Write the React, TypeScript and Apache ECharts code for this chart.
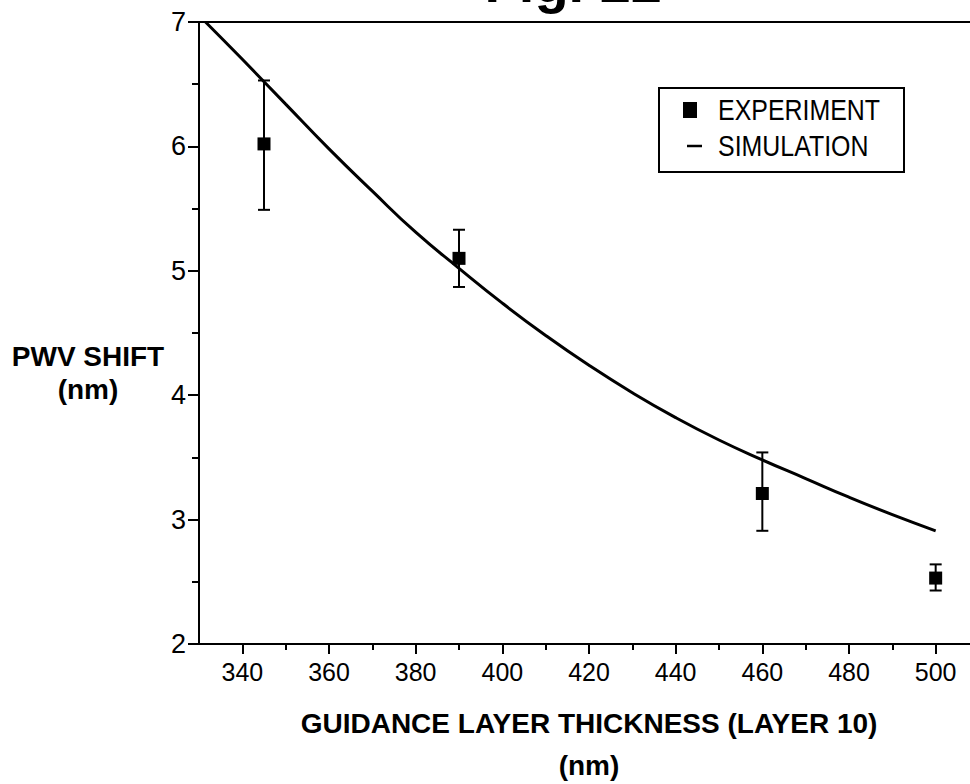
import React, { useEffect, useRef } from "react";
import * as echarts from "echarts";

// Measured experiment points: thickness (nm), PWV shift (nm) and error-bar limits
const expThickness = [345, 390, 460, 500];
const expShift = [6.02, 5.1, 3.21, 2.53];
const expLow = [5.49, 4.87, 2.91, 2.43];
const expHigh = [6.53, 5.33, 3.54, 2.64];

// Simulated curve
const simThickness = [331.5, 340, 350, 360, 370, 380, 390, 400, 410, 420, 430, 440, 450, 460, 470, 480, 490, 500];
const simShift = [7.0, 6.7, 6.34, 5.98, 5.64, 5.31, 5.02, 4.74, 4.48, 4.24, 4.02, 3.82, 3.64, 3.48, 3.33, 3.18, 3.04, 2.91];

// Axis ticks
const xMajorTicks = [340, 360, 380, 400, 420, 440, 460, 480, 500];
const xMinorTicks = [350, 370, 390, 410, 430, 450, 470, 490];

const SANS = '"Liberation Sans", Arial, sans-serif';

export default function App() {
  const ref = useRef<HTMLDivElement>(null);

  useEffect(() => {
    if (!ref.current) return;
    const chart = echarts.init(ref.current, undefined, { renderer: "svg" });

    const black = "#000";
    const grid = { left: 199, top: 22, width: 780, height: 622 };

    const option: echarts.EChartsOption = {
      animation: false,
      backgroundColor: "#fff",
      grid: {
        ...grid,
        outerBoundsMode: "none",
        containLabel: false,
        show: true,
        borderColor: black,
        borderWidth: 2,
        backgroundColor: "transparent",
      } as any,
      xAxis: [
        {
          type: "value",
          min: 330,
          max: 510,
          position: "bottom",
          axisLine: { show: true, lineStyle: { color: black, width: 2 } },
          axisTick: { show: true, customValues: xMajorTicks, length: 10, lineStyle: { color: black, width: 2 } } as any,
          axisLabel: { customValues: xMajorTicks, color: black, fontSize: 25, fontFamily: SANS, margin: 15 } as any,
          splitLine: { show: false },
          name: "GUIDANCE LAYER THICKNESS (LAYER 10)\n(nm)",
          nameLocation: "middle",
          nameGap: 58,
          nameTextStyle: { color: black, fontSize: 28, fontWeight: "bold", fontFamily: SANS, lineHeight: 42, align: "center" },
        },
        {
          type: "value",
          min: 330,
          max: 510,
          position: "bottom",
          axisLine: { show: false },
          axisTick: { show: true, customValues: xMinorTicks, length: 6, lineStyle: { color: black, width: 2 } } as any,
          axisLabel: { show: false },
          splitLine: { show: false },
        },
      ],
      yAxis: {
        type: "value",
        min: 2,
        max: 7,
        interval: 1,
        axisLine: { show: true, lineStyle: { color: black, width: 2 } },
        axisTick: { show: true, length: 11, lineStyle: { color: black, width: 2 } },
        minorTick: { show: true, splitNumber: 2, length: 7, lineStyle: { color: black, width: 2 } },
        axisLabel: { color: black, fontSize: 27, fontFamily: SANS, margin: 13 },
        splitLine: { show: false },
        minorSplitLine: { show: false },
      },
      graphic: [
        {
          type: "text",
          x: 662,
          y: -18,
          style: { text: "Fig. 22", fontSize: 56, fontWeight: "bold", fontFamily: SANS, fill: black, align: "right", verticalAlign: "middle" },
        },
        {
          type: "text",
          x: 88,
          y: 373,
          style: {
            text: "PWV SHIFT\n(nm)",
            fontSize: 28,
            fontWeight: "bold",
            fontFamily: SANS,
            lineHeight: 33,
            fill: black,
            align: "center",
            verticalAlign: "middle",
          },
        },
        // legend box
        {
          type: "rect",
          shape: { x: 659, y: 88, width: 245, height: 84 },
          style: { fill: "#fff", stroke: black, lineWidth: 2 },
          z: 100,
        },
        {
          type: "rect",
          shape: { x: 683, y: 102, width: 14, height: 16 },
          style: { fill: black },
          z: 101,
        },
        {
          type: "line",
          shape: { x1: 687, y1: 146, x2: 702, y2: 146 },
          style: { stroke: black, lineWidth: 2.5 },
          z: 101,
        },
        {
          type: "text",
          x: 718,
          y: 110,
          scaleX: 0.86,
          style: { text: "EXPERIMENT", fontSize: 29, fontFamily: SANS, fill: black, align: "left", verticalAlign: "middle" },
          z: 101,
        },
        {
          type: "text",
          x: 718,
          y: 146,
          scaleX: 0.86,
          style: { text: "SIMULATION", fontSize: 29, fontFamily: SANS, fill: black, align: "left", verticalAlign: "middle" },
          z: 101,
        },
      ],
      series: [
        {
          name: "SIMULATION",
          type: "line",
          xAxisIndex: 0,
          data: simThickness.map((x, i) => [x, simShift[i]]),
          smooth: true,
          showSymbol: false,
          symbol: "none",
          lineStyle: { color: black, width: 3 },
          clip: true,
          z: 3,
        },
        {
          name: "EXPERIMENT error",
          type: "custom",
          xAxisIndex: 0,
          data: expThickness.map((x, i) => [x, expLow[i], expHigh[i]]),
          renderItem: (_params: any, api: any) => {
            const x = api.value(0);
            const lo = api.coord([x, api.value(1)]);
            const hi = api.coord([x, api.value(2)]);
            const half = 6;
            const style = { stroke: black, lineWidth: 2 };
            return {
              type: "group",
              children: [
                { type: "line", shape: { x1: lo[0], y1: lo[1], x2: hi[0], y2: hi[1] }, style },
                { type: "line", shape: { x1: hi[0] - half, y1: hi[1], x2: hi[0] + half, y2: hi[1] }, style },
                { type: "line", shape: { x1: lo[0] - half, y1: lo[1], x2: lo[0] + half, y2: lo[1] }, style },
              ],
            };
          },
          z: 4,
        },
        {
          name: "EXPERIMENT",
          type: "scatter",
          xAxisIndex: 0,
          data: expThickness.map((x, i) => [x, expShift[i]]),
          symbol: "rect",
          symbolSize: 13,
          itemStyle: { color: black, opacity: 1 },
          z: 5,
        },
      ],
    };

    chart.setOption(option);
    return () => chart.dispose();
  }, []);

  return <div ref={ref} style={{ position: "fixed", left: 0, top: 0, width: 970, height: 784 }} />;
}
